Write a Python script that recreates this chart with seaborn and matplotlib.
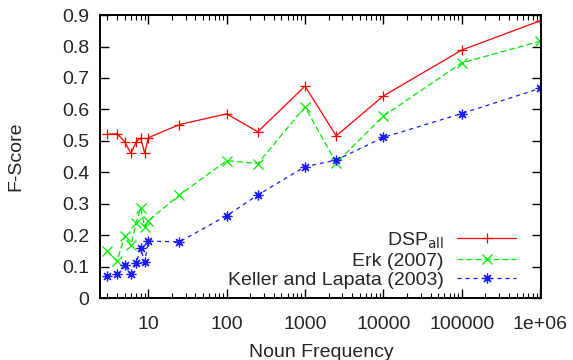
import pandas as pd
import seaborn as sns
import matplotlib.pyplot as plt
from matplotlib.ticker import FixedLocator, LogLocator, NullFormatter

# noun frequency bins (x) and F-scores per system
freq = [3, 4, 5, 6, 7, 8, 9, 10, 25, 100, 250, 1000, 2500, 10000, 100000, 1000000]
dsp_all = [0.521, 0.523, 0.497, 0.460, 0.497, 0.510, 0.460, 0.510, 0.552, 0.586,
           0.529, 0.674, 0.516, 0.643, 0.789, 0.882]
erk_2007 = [0.149, 0.118, 0.197, 0.168, 0.238, 0.287, 0.227, 0.246, 0.328, 0.437,
            0.428, 0.608, 0.430, 0.579, 0.748, 0.817]
keller_lapata = [0.071, 0.078, 0.105, 0.076, 0.112, 0.158, 0.115, 0.181, 0.179, 0.262,
                 0.328, 0.418, 0.439, 0.511, 0.587, 0.667]

x_ticks = [10, 100, 1000, 10000, 100000, 1000000]
x_tick_labels = ["10", "100", "1000", "10000", "100000", "1e+06"]
y_ticks = [0, 0.1, 0.2, 0.3, 0.4, 0.5, 0.6, 0.7, 0.8, 0.9]
y_tick_labels = ["0", "0.1", "0.2", "0.3", "0.4", "0.5", "0.6", "0.7", "0.8", "0.9"]

df = pd.DataFrame({"freq": freq, "dsp": dsp_all, "erk": erk_2007, "keller": keller_lapata})

sns.set_style("ticks")
plt.rcParams["font.family"] = ["Liberation Sans", "DejaVu Sans"]
plt.rcParams["font.size"] = 14

fig = plt.figure(figsize=(5.73, 3.6), dpi=100)
ax = fig.add_axes([0.175, 0.172, 0.770, 0.786])

series = [
    ("dsp", r"DSP$_{\mathrm{all}}$", "#ff0000", "-", "+"),
    ("erk", "Erk (2007)", "#00ee00", (0, (4.8, 2.4)), "x"),
    ("keller", "Keller and Lapata (2003)", "#1a1aff", (0, (3.2, 3.2)), (8, 2, 0)),
]
for col, label, color, ls, mk in series:
    sns.lineplot(data=df, x="freq", y=col, ax=ax, color=color, linestyle=ls,
                 linewidth=0.9, marker=mk, markersize=7, markeredgewidth=0.9,
                 markeredgecolor=color, markerfacecolor=color, label=label)

ax.set_xscale("log")
ax.set_xlim(2.44, 1.04e6)
ax.set_ylim(0, 0.9)
ax.xaxis.set_major_locator(FixedLocator(x_ticks))
ax.set_xticklabels(x_tick_labels)
ax.xaxis.set_minor_locator(LogLocator(base=10, subs=range(2, 10)))
ax.xaxis.set_minor_formatter(NullFormatter())
ax.set_yticks(y_ticks)
ax.set_yticklabels(y_tick_labels)

ax.tick_params(which="both", direction="in", top=True, right=True, color="black",
               labelsize=14)
ax.tick_params(axis="x", pad=13)
ax.tick_params(axis="y", pad=8)
ax.tick_params(which="major", length=6.5, width=1.0)
ax.tick_params(which="minor", length=3.5, width=0.8)
for sp in ax.spines.values():
    sp.set_linewidth(1.4)
    sp.set_color("black")

ax.set_xlabel("Noun Frequency", fontsize=14, labelpad=8)
ax.set_ylabel("F-Score", fontsize=14, labelpad=27)

ax.legend(loc="lower right", markerfirst=False, frameon=False, fontsize=14,
          handlelength=3.0, handletextpad=0.7, labelspacing=0.08, numpoints=1,
          borderaxespad=0.0, borderpad=0.3, bbox_to_anchor=(0.955, 0.012))

fig.savefig("out.png", dpi=100)
